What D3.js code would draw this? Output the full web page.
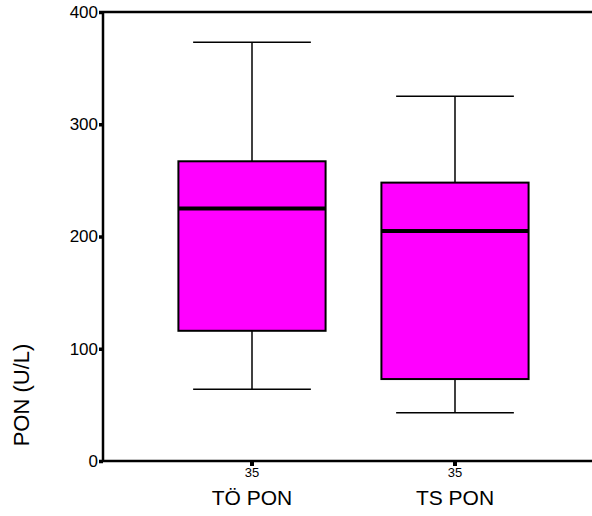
<!DOCTYPE html>
<html>
<head>
<meta charset="utf-8">
<script src="https://cdn.jsdelivr.net/npm/d3@7"></script>
<style>
  body { margin: 0; background: #fff; }
  svg { display: block; font-family: "Liberation Sans", Arial, sans-serif; }
</style>
</head>
<body>
<div class="viz-container"></div>
<script>
// data
let categories = ["TÖ PON", "TS PON"];
let counts = [35, 35];
let whiskerLow = [64, 43];
let q1 = [116, 73];
let medians = [225, 205];
let q3 = [267, 248];
let whiskerHigh = [373, 325];
let yTicks = [0, 100, 200, 300, 400];

let width = 592, height = 516;
let plotLeft = 103, plotTop = 12, plotBottom = 461;

let viz = d3.select(".viz-container")
  .append("svg")
    .attr("width", width)
    .attr("height", height);

let y = d3.scaleLinear().domain([0, 400]).range([plotBottom, plotTop]);
let x = d3.scaleBand().domain(categories).range([plotLeft, 604]).paddingOuter(0.234).paddingInner(0);

let boxes = categories.map((c, i) => ({
  name: c, n: counts[i], lo: whiskerLow[i], q1: q1[i], med: medians[i], q3: q3[i], hi: whiskerHigh[i]
}));

let boxW = x.step() * 0.725;
let capW = x.step() * 0.58;
let cx = d => x(d.name) + x.bandwidth() / 2;

let groups = viz.selectAll(".datagroup").data(boxes).enter()
  .append("g")
    .attr("class", "datagroup");

// whiskers
groups.append("line")
  .attr("x1", cx).attr("x2", cx)
  .attr("y1", d => y(d.hi)).attr("y2", d => y(d.q3))
  .attr("stroke", "black").attr("stroke-width", 1.5);
groups.append("line")
  .attr("x1", cx).attr("x2", cx)
  .attr("y1", d => y(d.q1)).attr("y2", d => y(d.lo))
  .attr("stroke", "black").attr("stroke-width", 1.5);
groups.append("line")
  .attr("x1", d => cx(d) - capW / 2).attr("x2", d => cx(d) + capW / 2)
  .attr("y1", d => y(d.hi)).attr("y2", d => y(d.hi))
  .attr("stroke", "black").attr("stroke-width", 1.5);
groups.append("line")
  .attr("x1", d => cx(d) - capW / 2).attr("x2", d => cx(d) + capW / 2)
  .attr("y1", d => y(d.lo)).attr("y2", d => y(d.lo))
  .attr("stroke", "black").attr("stroke-width", 1.5);

// box
groups.append("rect")
  .attr("x", d => cx(d) - boxW / 2)
  .attr("y", d => y(d.q3))
  .attr("width", boxW)
  .attr("height", d => y(d.q1) - y(d.q3))
  .attr("fill", "#ff00ff")
  .attr("stroke", "black")
  .attr("stroke-width", 2);

// median
groups.append("line")
  .attr("x1", d => cx(d) - boxW / 2).attr("x2", d => cx(d) + boxW / 2)
  .attr("y1", d => y(d.med)).attr("y2", d => y(d.med))
  .attr("stroke", "black").attr("stroke-width", 4);

// axes
viz.append("line")
  .attr("x1", plotLeft).attr("x2", plotLeft).attr("y1", plotTop - 1).attr("y2", plotBottom + 1)
  .attr("stroke", "black").attr("stroke-width", 2.5);
viz.append("line")
  .attr("x1", plotLeft).attr("x2", width).attr("y1", plotTop).attr("y2", plotTop)
  .attr("stroke", "black").attr("stroke-width", 2.5);
viz.append("line")
  .attr("x1", plotLeft).attr("x2", width).attr("y1", plotBottom).attr("y2", plotBottom)
  .attr("stroke", "black").attr("stroke-width", 2.5);

let yAxis = viz.append("g")
  .attr("transform", "translate(" + plotLeft + ",0)")
  .call(d3.axisLeft(y).tickValues(yTicks).tickSize(4).tickPadding(1));
yAxis.select(".domain").remove();
yAxis.selectAll(".tick line").attr("stroke-width", 3.5);
yAxis.selectAll("text").attr("font-size", 17).attr("fill", "black")
  .attr("font-family", "Liberation Sans, Arial, sans-serif");

// x ticks
groups.append("line")
  .attr("x1", cx).attr("x2", cx)
  .attr("y1", plotBottom).attr("y2", plotBottom + 5)
  .attr("stroke", "black").attr("stroke-width", 4);
groups.append("text")
  .attr("x", cx).attr("y", plotBottom + 16)
  .attr("text-anchor", "middle")
  .attr("font-size", 13)
  .text(d => d.n);
groups.append("text")
  .attr("x", cx).attr("y", plotBottom + 44)
  .attr("text-anchor", "middle")
  .attr("font-size", 21)
  .text(d => d.name);

// y title
viz.append("text")
  .attr("transform", "translate(29,395) rotate(-90)")
  .attr("text-anchor", "middle")
  .attr("font-size", 22)
  .text("PON (U/L)");
</script>
</body>
</html>
